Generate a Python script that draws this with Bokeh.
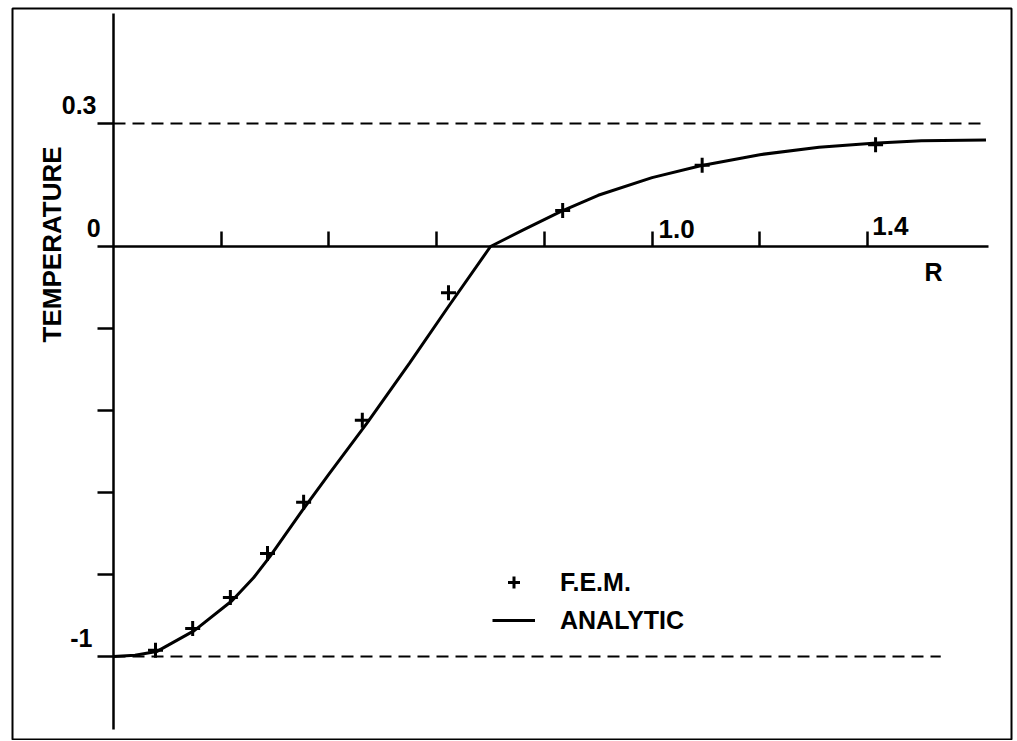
import math
from bokeh.plotting import figure
from bokeh.models import (LinearAxis, FixedTicker, Range1d, Legend, LegendItem,
                          ColumnDataSource)
from bokeh.core.properties import value
from bokeh.embed import file_html
from bokeh.resources import INLINE

# ---------------- data ----------------
analytic_r = [0.00, 0.04, 0.08, 0.15, 0.22, 0.26, 0.29, 0.35, 0.40, 0.47, 0.55,
              0.62, 0.70, 0.76, 0.83, 0.90, 1.00, 1.09, 1.20, 1.31, 1.41, 1.50, 1.62]
analytic_t = [-1.000, -0.997, -0.988, -0.937, -0.864, -0.808, -0.757, -0.645,
              -0.555, -0.432, -0.284, -0.150, 0.000, 0.040, 0.085, 0.125, 0.168,
              0.197, 0.224, 0.242, 0.252, 0.258, 0.260]

fem_r = [0.078, 0.147, 0.217, 0.286, 0.353, 0.462, 0.622, 0.834, 1.093, 1.415]
fem_t = [-0.985, -0.932, -0.856, -0.749, -0.624, -0.424, -0.113, 0.088, 0.198, 0.248]

x_ticks = [0.2, 0.4, 0.6, 0.8, 1.0, 1.2, 1.4]
y_ticks = [0.3, 0.0, -0.2, -0.4, -0.6, -0.8, -1.0]

ref_levels = [0.3, -1.0]          # dashed reference temperatures
ref_ends = [1.62, 1.536]          # where each dashed line stops (R)

FONT = "Liberation Sans"

# ---------------- figure ----------------
p = figure(width=1015, height=740, output_backend="svg", toolbar_location=None,
           x_axis_location=None, y_axis_location=None,
           x_range=Range1d(-0.18753, 1.66738), y_range=Range1d(-1.20244, 0.58049),
           min_border_left=12, min_border_right=4, min_border_top=8, min_border_bottom=1)
p.xgrid.visible = False
p.ygrid.visible = False
p.outline_line_color = "black"
p.outline_line_width = 2
p.background_fill_color = "white"
p.border_fill_color = "white"

# axes crossing at the origin
xaxis = LinearAxis(fixed_location=0, ticker=FixedTicker(ticks=x_ticks),
                   bounds=(0, 1.625))
xaxis.major_tick_in = 15
xaxis.major_tick_out = 0
xaxis.minor_tick_line_color = None
xaxis.axis_line_width = 2.5
xaxis.major_tick_line_width = 2.5
xaxis.major_label_overrides = {t: "" for t in x_ticks}
p.add_layout(xaxis, "below")

yaxis = LinearAxis(fixed_location=0, ticker=FixedTicker(ticks=y_ticks),
                   bounds=(-1.178, 0.568))
yaxis.major_tick_in = 0
yaxis.major_tick_out = 16
yaxis.minor_tick_line_color = None
yaxis.axis_line_width = 2.5
yaxis.major_tick_line_width = 2.5
yaxis.major_label_overrides = {t: "" for t in y_ticks}
p.add_layout(yaxis, "left")

# dashed reference lines
p.segment(x0=[0.0] * len(ref_levels), y0=ref_levels, x1=ref_ends, y1=ref_levels,
          line_color="black", line_width=2, line_dash="12 7")

# analytic curve and FEM points
line_r = p.line(analytic_r, analytic_t, line_color="black", line_width=3)
fem = p.scatter(fem_r, fem_t, marker="cross", size=15, line_color="black",
                line_width=3)

# tick labels and axis titles
lab_src = ColumnDataSource(dict(
    x=[-0.0316, -0.024, -0.039],
    y=[0.344, 0.044, -0.954],
    text=["0.3", "0", "-1"]))
p.text(x="x", y="y", text="text", source=lab_src, text_align="right",
       text_baseline="middle", text_font=value(FONT), text_font_size="25px",
       text_font_style="bold", text_color="black")

lab_src2 = ColumnDataSource(dict(
    x=[1.012, 1.409],
    y=[0.042, 0.050],
    text=["1.0", "1.4"]))
p.text(x="x", y="y", text="text", source=lab_src2, text_align="left",
       text_baseline="middle", text_font=value(FONT), text_font_size="26px",
       text_font_style="bold", text_color="black")

p.text(x=[1.5225], y=[-0.061], text=["R"], text_align="center",
       text_baseline="middle", text_font=value(FONT), text_font_size="25px",
       text_font_style="bold", text_color="black")

p.text(x=[-0.1151], y=[0.005], text=["TEMPERATURE"], angle=math.pi / 2,
       text_align="center", text_baseline="middle", text_font=value(FONT),
       text_font_size="26px", text_font_style="bold", text_color="black")

# legend
legend = Legend(items=[LegendItem(label="F.E.M.", renderers=[fem]),
                       LegendItem(label="ANALYTIC", renderers=[line_r])],
                location=(480, 104), orientation="vertical",
                glyph_width=43, glyph_height=30, label_height=30,
                label_standoff=25, spacing=8, padding=0, margin=0,
                border_line_color=None, background_fill_alpha=0,
                label_text_font=FONT, label_text_font_size="25px",
                label_text_font_style="bold", label_text_color="black")
p.add_layout(legend, "center")

open("out.html", "w").write(file_html(p, INLINE))
